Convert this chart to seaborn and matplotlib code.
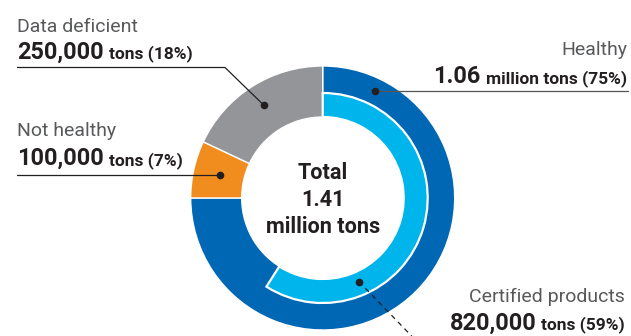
import matplotlib
matplotlib.use("Agg")
import numpy as np
import matplotlib.pyplot as plt
import seaborn as sns

# ---- data ----
categories = ["Healthy", "Not healthy", "Data deficient"]
shares = [75, 7, 18]                       # % of total
value_labels = ["1.06", "100,000", "250,000"]
unit_labels = ["million tons (75%)", "tons (7%)", "tons (18%)"]
certified_share = [59, 41]                 # certified vs rest, % of total
certified_name = "Certified products"
certified_value = "820,000"
certified_unit = "tons (59%)"
total_lines = ["Total", "1.41", "million tons"]

# ---- style ----
sns.set_theme(style="white")
plt.rcParams['font.family'] = ['Roboto', 'DejaVu Sans']

DARK_BLUE = "#0067B4"
LIGHT_BLUE = "#00B4EC"
ORANGE = "#F18D1E"
GRAY = "#939598"
TXT = "#231F20"
TXT_LIGHT = "#58595B"

W, H = 631, 336
fig = plt.figure(figsize=(W / 100, H / 100), dpi=100)
ax = fig.add_axes([0, 0, 1, 1])

def Y(y):
    return H - y

cx, cy = 322.7, Y(198)
R_OUT, R_MID, R_IN = 132, 105, 81

ax.pie(shares, colors=[DARK_BLUE, ORANGE, GRAY], radius=R_OUT, center=(cx, cy),
       startangle=90, counterclock=False,
       wedgeprops=dict(width=R_OUT - R_IN, edgecolor="white", linewidth=1.0))
inner, _ = ax.pie(certified_share, colors=[LIGHT_BLUE, "white"], radius=R_MID, center=(cx, cy),
                  startangle=90, counterclock=False,
                  wedgeprops=dict(width=R_MID - R_IN, edgecolor="white", linewidth=1.6))
inner[1].set_visible(False)

ax.set_xlim(0, W)
ax.set_ylim(0, H)
ax.set_aspect("equal")
ax.axis("off")

def polar(angle_cw_from_top, r):
    a = np.deg2rad(angle_cw_from_top)
    return cx + r * np.sin(a), cy + r * np.cos(a)

LW = 0.9
DOT = 5.5
p_healthy = polar(25.9, 119)
p_deficient = polar(327.6, 110)
p_nothealthy = polar(282.8, 105)
p_cert = polar(156.6, 91)

ax.plot([17, 225, p_deficient[0]], [Y(67.5), Y(67.5), p_deficient[1]], color=TXT, lw=LW, solid_capstyle="butt")
ax.plot([17, p_nothealthy[0]], [p_nothealthy[1], p_nothealthy[1]], color=TXT, lw=LW)
ax.plot([p_healthy[0], 628], [p_healthy[1], p_healthy[1]], color="#555555", lw=LW)
ax.plot([p_cert[0], p_cert[0] + 60], [p_cert[1], p_cert[1] - 62], color=TXT, lw=LW,
        linestyle=(0, (4, 3.5)))
for p in (p_healthy, p_deficient, p_nothealthy, p_cert):
    ax.plot(p[0], p[1], "o", color=TXT, ms=DOT, mec="none")

fig.canvas.draw()
renderer = fig.canvas.get_renderer()

def width_px(t):
    return t.get_window_extent(renderer=renderer).width

def fit_size(pairs, weight="normal", base=10.0):
    """font size so that texts roughly match target pixel widths"""
    ratios = []
    for s, target in pairs:
        t = ax.text(0, 0, s, fontsize=base, fontweight=weight)
        ratios.append(target / width_px(t))
        t.remove()
    return base * float(np.mean(ratios))

REG = min(fit_size([("Data deficient", 121), ("Certified products", 156)]) , 14)
REG = max(REG, 12.0)
BIG = fit_size([("250,000", 90), ("1.06", 45), ("820,000", 86)], "bold")
SMALL = fit_size([("tons (18%)", 84), ("million tons (75%)", 144), ("tons (59%)", 82)], "bold")
CENTER = fit_size([("million tons", 121), ("Total", 47)], "bold")

def left_block(x, y_name, y_val, name, val, unit):
    ax.text(x, Y(y_name), name, fontsize=REG, color=TXT_LIGHT, ha="left", va="baseline")
    t = ax.text(x, Y(y_val), val, fontsize=BIG, fontweight="bold", color=TXT, ha="left", va="baseline")
    w = width_px(t)
    ax.text(x + w + 5, Y(y_val), unit, fontsize=SMALL, fontweight="bold", color=TXT, ha="left", va="baseline")

def right_block(x, y_name, y_val, name, val, unit):
    ax.text(x, Y(y_name), name, fontsize=REG, color=TXT_LIGHT, ha="right", va="baseline")
    u = ax.text(x, Y(y_val), unit, fontsize=SMALL, fontweight="bold", color=TXT, ha="right", va="baseline")
    w = width_px(u)
    ax.text(x - w - 5, Y(y_val), val, fontsize=BIG, fontweight="bold", color=TXT, ha="right", va="baseline")

left_block(17, 31.5, 58.5, categories[2], value_labels[2], unit_labels[2])
left_block(17, 136.5, 165, categories[1], value_labels[1], unit_labels[1])
right_block(627, 55, 83, categories[0], value_labels[0], unit_labels[0])
right_block(625, 302, 329.5, certified_name, certified_value, certified_unit)

for line, yy in zip(total_lines, [173, 200, 227]):
    ax.text(cx, Y(yy), line, fontsize=CENTER, fontweight="bold", color=TXT, ha="center", va="center")

fig.savefig("out.png", dpi=100)
